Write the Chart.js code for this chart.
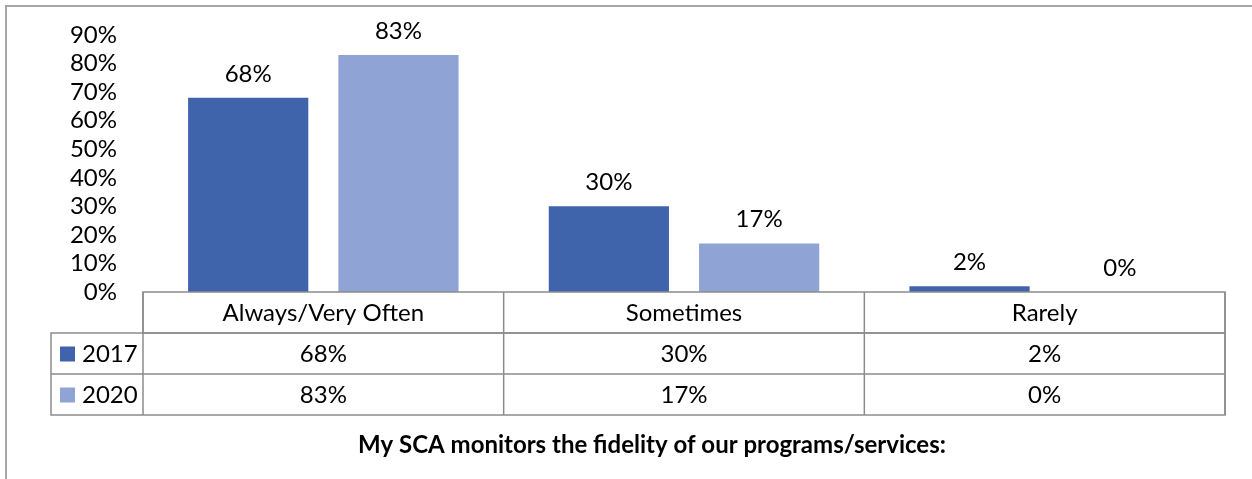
<!DOCTYPE html>
<html>
<head>
<meta charset="utf-8">
<script src="https://cdn.jsdelivr.net/npm/chart.js@4"></script>
<style>
  html, body { margin: 0; padding: 0; background: #fff; }
  canvas { display: block; }
</style>
</head>
<body>
<canvas id="myChart" width="1252" height="479"></canvas>
<script>
// chart values
const categories = ["Always/Very Often", "Sometimes", "Rarely"];
const seriesNames = ["2017", "2020"];
const values2017 = [68, 30, 2];
const values2020 = [83, 17, 0];
const yTicks = [0, 10, 20, 30, 40, 50, 60, 70, 80, 90];
const chartTitle = "My SCA monitors the fidelity of our programs/services:";

const FONT = "Lato, 'Open Sans', sans-serif";
const colors = ["#3F64AC", "#8FA4D5"];

// data table + frame + title, drawn under the plot area
const tablePlugin = {
    id: "dataTable",
    beforeDraw(chart) {
        const ctx = chart.ctx;
        ctx.save();
        ctx.strokeStyle = "#A6A6A6";
        ctx.lineWidth = 2;
        ctx.beginPath();
        ctx.moveTo(6, 479);
        ctx.lineTo(6, 6);
        ctx.lineTo(1252, 6);
        ctx.stroke();
        ctx.restore();
    },
    afterDraw(chart) {
        const ctx = chart.ctx;
        const x = chart.scales.x;
        const area = chart.chartArea;
        const rowH = 41;
        const top = area.bottom;
        const legendLeft = 51;
        const catW = (area.right - area.left) / categories.length;
        const rows = [values2017, values2020];

        ctx.save();
        ctx.strokeStyle = "#8C8C8C";
        ctx.lineWidth = 1.5;
        // header row (categories)
        ctx.strokeRect(area.left, top, area.right - area.left, rowH);
        // series rows incl. legend column
        ctx.strokeRect(legendLeft, top + rowH, area.right - legendLeft, rowH * 2);
        ctx.beginPath();
        ctx.moveTo(legendLeft, top + rowH * 2);
        ctx.lineTo(area.right, top + rowH * 2);
        for (let i = 0; i <= categories.length; i++) {
            const cx = area.left + catW * i;
            ctx.moveTo(cx, top);
            ctx.lineTo(cx, top + rowH * 3);
        }
        ctx.stroke();

        ctx.fillStyle = "#000";
        ctx.font = "24px " + FONT;
        ctx.textAlign = "center";
        ctx.textBaseline = "middle";
        categories.forEach((c, i) => {
            ctx.fillText(c, x.getPixelForValue(i), top + rowH / 2 + 1);
        });
        rows.forEach((vals, r) => {
            const cy = top + rowH * (r + 1.5) + 1;
            vals.forEach((v, i) => {
                ctx.fillText(v + "%", x.getPixelForValue(i), cy);
            });
            // legend key
            ctx.fillStyle = colors[r];
            ctx.fillRect(60, cy - 8, 15, 15);
            ctx.fillStyle = "#000";
            ctx.textAlign = "left";
            ctx.fillText(seriesNames[r], 82, cy);
            ctx.textAlign = "center";
        });

        ctx.font = "bold 24px " + FONT;
        ctx.fillText(chartTitle, 652, 445);
        ctx.restore();
    },
    afterDatasetsDraw(chart) {
        const ctx = chart.ctx;
        ctx.save();
        ctx.fillStyle = "#000";
        ctx.font = "24px " + FONT;
        ctx.textAlign = "center";
        ctx.textBaseline = "middle";
        chart.data.datasets.forEach((ds, d) => {
            chart.getDatasetMeta(d).data.forEach((bar, i) => {
                ctx.fillText(ds.data[i] + "%", bar.x, bar.y - 24);
            });
        });
        ctx.restore();
    }
};

new Chart(document.getElementById("myChart").getContext("2d"), {
    type: "bar",
    data: {
        labels: categories,
        datasets: [
            { label: seriesNames[0], data: values2017, backgroundColor: colors[0] },
            { label: seriesNames[1], data: values2020, backgroundColor: colors[1] }
        ]
    },
    options: {
        responsive: false,
        animation: false,
        categoryPercentage: 0.8333,
        barPercentage: 0.8,
        layout: { padding: { left: 0, top: 35, right: 27, bottom: 187 } },
        plugins: {
            legend: { display: false },
            tooltip: { enabled: false },
            title: { display: false }
        },
        scales: {
            x: { display: false },
            y: {
                min: 0,
                max: 90,
                afterFit(scale) {
                    scale.width = 143;
                    scale.paddingTop = 0;
                    scale.paddingBottom = 0;
                },
                afterBuildTicks(scale) { scale.ticks = yTicks.map(v => ({ value: v })); },
                grid: { display: false, drawTicks: false },
                border: { display: false },
                ticks: {
                    autoSkip: false,
                    padding: 26,
                    color: "#000",
                    font: { family: FONT, size: 24 },
                    callback: v => v + "%"
                }
            }
        }
    },
    plugins: [tablePlugin]
});
</script>
</body>
</html>
